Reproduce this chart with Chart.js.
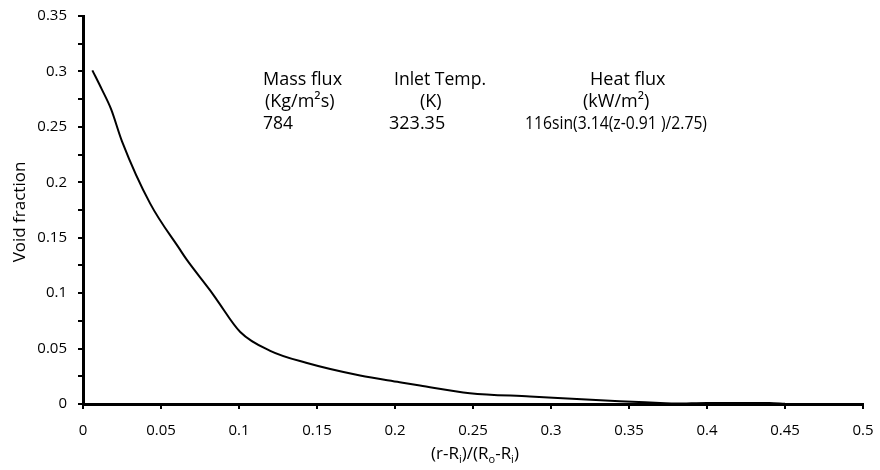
<!DOCTYPE html>
<html><head><meta charset="utf-8">
<script src="https://cdn.jsdelivr.net/npm/chart.js@4/dist/chart.umd.min.js"></script>
<style>html,body{margin:0;padding:0;background:#fff;}#wrap{width:880px;height:470px;position:relative;}</style>
</head><body><div id="wrap"><canvas id="c" width="880" height="470"></canvas></div>
<script>
const xValues = [0.006, 0.012, 0.018, 0.025, 0.043, 0.0623, 0.0666, 0.0815, 0.0858, 0.1008, 0.12, 0.143, 0.1776, 0.203, 0.216, 0.248, 0.2865, 0.344, 0.37, 0.38, 0.40, 0.44, 0.45];
const voidFraction = [0.301, 0.284, 0.266, 0.237, 0.181, 0.139, 0.130, 0.1025, 0.094, 0.065, 0.048, 0.0372, 0.0257, 0.0197, 0.0167, 0.0098, 0.0068, 0.0025, 0.001, 0.0004, 0.001, 0.001, 0.0002];
const xTickLabels = ['0','0.05','0.1','0.15','0.2','0.25','0.3','0.35','0.4','0.45','0.5'];
const yTickLabels = ['0','0.05','0.1','0.15','0.2','0.25','0.3','0.35'];
const annotationColumns = [
  ['Mass flux', '(Kg/m\u00b2s)', '784'],
  ['Inlet Temp.', '(K)', '323.35'],
  ['Heat flux', '(kW/m\u00b2)', '116sin(3.14(z-0.91 )/2.75)']
];
const yTitle = 'Void fraction';

const FONT = '"Open Sans", "Liberation Sans", sans-serif';

const textPlugin = {
  id: 'texts',
  afterDraw(chart) {
    const ctx = chart.ctx;
    const xs = chart.scales.x;
    ctx.save();
    ctx.fillStyle = '#000';
    ctx.font = '18px ' + FONT;
    ctx.textBaseline = 'middle';
    ctx.textAlign = 'left';
    const colX = [[263, 265, 263], [394, 420, 389], [590, 583, 525]];
    const colW = [[86, 80, 30], [92, 24, 58], [82, 72, 182]];
    const rowY = [80, 102, 124];
    annotationColumns.forEach((col, ci) => {
      col.forEach((t, ri) => ctx.fillText(t, colX[ci][ri], rowY[ri], colW[ci][ri]));
    });
    ctx.save();
    ctx.font = '17px ' + FONT;
    ctx.translate(20, 212);
    ctx.rotate(-Math.PI / 2);
    ctx.textAlign = 'center';
    ctx.textBaseline = 'middle';
    ctx.fillText(yTitle, 0, 0);
    ctx.restore();
    const parts = [['(r-R', 0], ['i', 1], [')/(R', 0], ['o', 1], ['-R', 0], ['i', 1], [')', 0]];
    const big = '17px ' + FONT, small = '11px ' + FONT;
    let total = 0;
    parts.forEach(p => { ctx.font = p[1] ? small : big; total += ctx.measureText(p[0]).width; });
    let x = (xs.left + xs.right) / 2 - total / 2 + 2;
    const base = 459;
    ctx.textAlign = 'left';
    ctx.textBaseline = 'alphabetic';
    parts.forEach(p => {
      ctx.font = p[1] ? small : big;
      ctx.fillText(p[0], x, p[1] ? base + 4 : base);
      x += ctx.measureText(p[0]).width;
    });
    ctx.restore();
  }
};

new Chart(document.getElementById('c'), {
  type: 'scatter',
  data: {
    datasets: [{
      data: xValues.map((x, i) => ({ x: x, y: voidFraction[i] })),
      showLine: true,
      borderColor: '#000',
      borderWidth: 2,
      pointRadius: 0,
      cubicInterpolationMode: 'monotone',
      fill: false,
      clip: false
    }]
  },
  options: {
    responsive: false,
    animation: false,
    devicePixelRatio: 1,
    layout: { padding: { top: 16, right: 17, left: 0, bottom: 0 } },
    plugins: { legend: { display: false }, tooltip: { enabled: false } },
    scales: {
      x: {
        type: 'linear', min: 0, max: 0.5,
        afterFit(s) { s.height = 66; s.paddingLeft = 0; s.paddingRight = 0; },
        afterBuildTicks(s) { s.ticks = xTickLabels.map((_, i) => ({ value: i * 0.05 })); },
        ticks: {
          font: { family: FONT, size: 15 }, color: '#000', padding: 13, maxRotation: 0,
          callback: (v, i) => xTickLabels[i]
        },
        grid: { drawOnChartArea: false, drawTicks: true, tickLength: 5, color: '#000', lineWidth: 2 },
        border: { display: true, color: '#000', width: 3 }
      },
      y: {
        type: 'linear', min: 0, max: 0.35,
        afterFit(s) { s.width = 83; s.paddingTop = 0; s.paddingBottom = 0; },
        afterBuildTicks(s) { const t = []; for (let i = 0; i <= 14; i++) t.push({ value: i * 0.025 }); s.ticks = t; },
        ticks: {
          font: { family: FONT, size: 15 }, color: '#000', padding: 11, autoSkip: false,
          callback: (v, i) => (i % 2 === 0 ? yTickLabels[i / 2] : '')
        },
        grid: { drawOnChartArea: false, drawTicks: true, tickLength: 5, color: '#000', lineWidth: 2 },
        border: { display: true, color: '#000', width: 3 }
      }
    }
  },
  plugins: [textPlugin]
});
</script>
</body></html>
